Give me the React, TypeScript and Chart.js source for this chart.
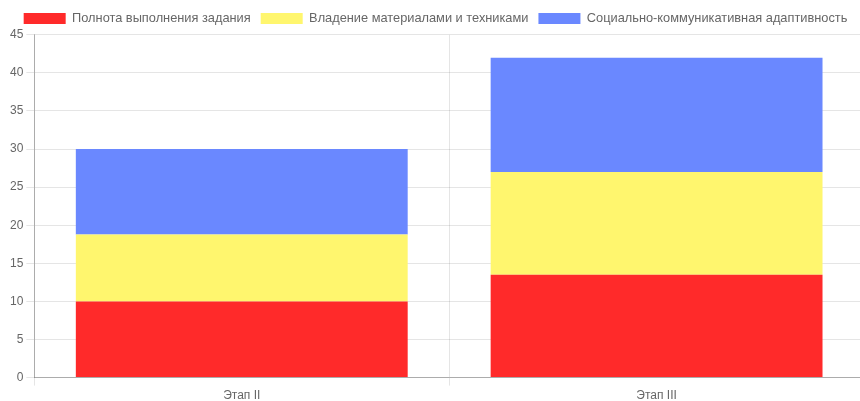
import React, { useEffect, useRef } from "react";
import { Chart, registerables } from "chart.js";

Chart.register(...registerables);

const categories = ["Этап II", "Этап III"];
const seriesNames = [
  "Полнота выполнения задания",
  "Владение материалами и техниками",
  "Социально-коммуникативная адаптивность",
];
const completeness = [10, 13.5];
const mastery = [8.8, 13.5];
const adaptivity = [11.2, 15];
const colors = ["rgb(255,42,42)", "rgb(255,246,110)", "rgb(106,136,255)"];
const yTicks = { min: 0, max: 45, step: 5 };

export default function App() {
  const ref = useRef<HTMLCanvasElement | null>(null);
  useEffect(() => {
    if (!ref.current) return;
    const values = [completeness, mastery, adaptivity];
    const fam = "'Liberation Sans', Arial, sans-serif";
    const chart = new Chart(ref.current, {
      type: "bar",
      data: {
        labels: categories,
        datasets: seriesNames.map((name, i) => ({
          label: name,
          data: values[i],
          backgroundColor: colors[i],
          borderWidth: 0,
          barPercentage: 1,
          categoryPercentage: 0.8,
        })),
      },
      options: {
        responsive: false,
        animation: false,
        layout: { padding: { left: 7, right: 2, top: 2, bottom: 0 } },
        font: { family: fam, size: 12 },
        plugins: {
          legend: {
            position: "top",
            align: "center",
            labels: {
              boxWidth: 42,
              boxHeight: 11,
              color: "#666",
              font: { family: fam, size: 12.8 },
              padding: 10,
            },
          },
          tooltip: { enabled: false },
        },
        scales: {
          x: {
            stacked: true,
            grid: { color: "rgba(0,0,0,0.1)", tickLength: 8 },
            border: { color: "rgba(0,0,0,0.25)" },
            ticks: { color: "#666", font: { family: fam, size: 12 } },
          },
          y: {
            stacked: true,
            min: yTicks.min,
            max: yTicks.max,
            ticks: { stepSize: yTicks.step, color: "#666", font: { family: fam, size: 12 } },
            grid: { color: "rgba(0,0,0,0.1)", tickLength: 8 },
            border: { color: "rgba(0,0,0,0.25)" },
          },
        },
      },
    });
    return () => chart.destroy();
  }, []);
  return (
    <div style={{ position: "absolute", left: 0, top: 0, width: 860, height: 401, overflow: "hidden", background: "#fff" }}>
      <canvas ref={ref} width={866} height={406} style={{ display: "block" }} />
    </div>
  );
}
